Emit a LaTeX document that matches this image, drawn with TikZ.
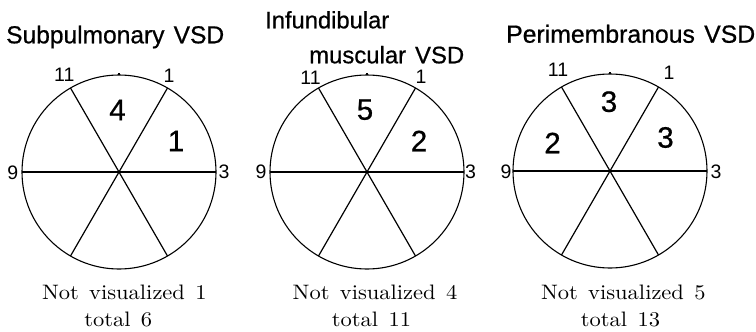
\documentclass[tikz,border=0pt]{standalone}
\usepackage{fontspec}
\newfontfamily\hv{Liberation Sans}
\newfontfamily\hvm{Liberation Sans}[FakeBold=0.7]
\newcommand\widesp{\spaceskip=4.6pt\relax}
\newcommand\ttlsp{\spaceskip=9pt\relax}
\newcommand\notetxt[1]{\scalebox{2.25}[2.09]{\normalsize\widesp #1}}
\newcommand\ttltxt[2]{\resizebox{#1pt}{!}{\hvm\fontsize{24}{27}\selectfont\ttlsp #2}}
\begin{document}
\begin{tikzpicture}[x=1pt,y=-1pt,
  rim/.style={line width=1.1pt},
  spoke/.style={line width=1.2pt},
  title/.style={inner sep=0pt, anchor=base west},
  clock/.style={font=\hv\fontsize{19.5}{22}\selectfont, inner sep=0pt},
  count/.style={font=\hvm\fontsize{29.5}{32}\selectfont, inner sep=0pt},
  note/.style={inner sep=0pt, anchor=base}]
\useasboundingbox (0,0) rectangle (756,332);
% dials
\foreach \cx/\cy/\n in {119/172/da, 367/172/db, 610/171/dc} {
  \coordinate (\n) at (\cx,\cy);
  \draw[rim] (\n) circle[radius=97];
  \draw[spoke] (\n) ++(180:97) -- ++(0:194);
  \draw[spoke] (\n) ++(120:97) -- ++(300:194);
  \draw[spoke] (\n) ++(60:97) -- ++(240:194);
  \draw[rim] (\n) ++(0,-97) -- ++(0,-2);
}
% titles
\node[title] (t1) at (6,43.3) {\ttltxt{218}{Subpulmonary VSD}};
\node[title] (t2a) at (265,28.3) {\ttltxt{124}{Infundibular}};
\node[title] (t2b) at (309,63.3) {\ttltxt{155}{muscular VSD}};
\node[title] (t3) at (506,42.7) {\ttltxt{249}{Perimembranous VSD}};
% clock labels
\node[clock] (a11) at (64.3,74.7) {11};
\node[clock] (a1) at (169,76) {1};
\node[clock] (a9) at (12.7,172.5) {9};
\node[clock] (a3) at (224,172) {3};
\node[clock] (b11) at (310.5,78) {11};
\node[clock] (b1) at (421,76.5) {1};
\node[clock] (b9) at (261,172) {9};
\node[clock] (b3) at (470.5,172) {3};
\node[clock] (c11) at (558,70) {11};
\node[clock] (c1) at (669,73) {1};
\node[clock] (c9) at (506,172) {9};
\node[clock] (c3) at (716,172) {3};
% counts
\node[count] (na1) at (117.5,110) {4};
\node[count] (na2) at (176,141) {1};
\node[count] (nb1) at (365,109.7) {5};
\node[count] (nb2) at (419,141) {2};
\node[count] (nc1) at (609,101.7) {3};
\node[count] (nc2) at (552.5,143) {2};
\node[count] (nc3) at (665.5,137.5) {3};
% notes
\node[note] (ma) at (124.3,299.3) {\notetxt{Not visualized 1}};
\node[note] (ta) at (118.3,326.7) {\notetxt{total 6}};
\node[note] (mb) at (375,299.3) {\notetxt{Not visualized 4}};
\node[note] (tb) at (371.5,326.7) {\notetxt{total 11}};
\node[note] (mc) at (623.3,299.3) {\notetxt{Not visualized 5}};
\node[note] (tc) at (620.5,326.7) {\notetxt{total 13}};
\end{tikzpicture}
\end{document}
